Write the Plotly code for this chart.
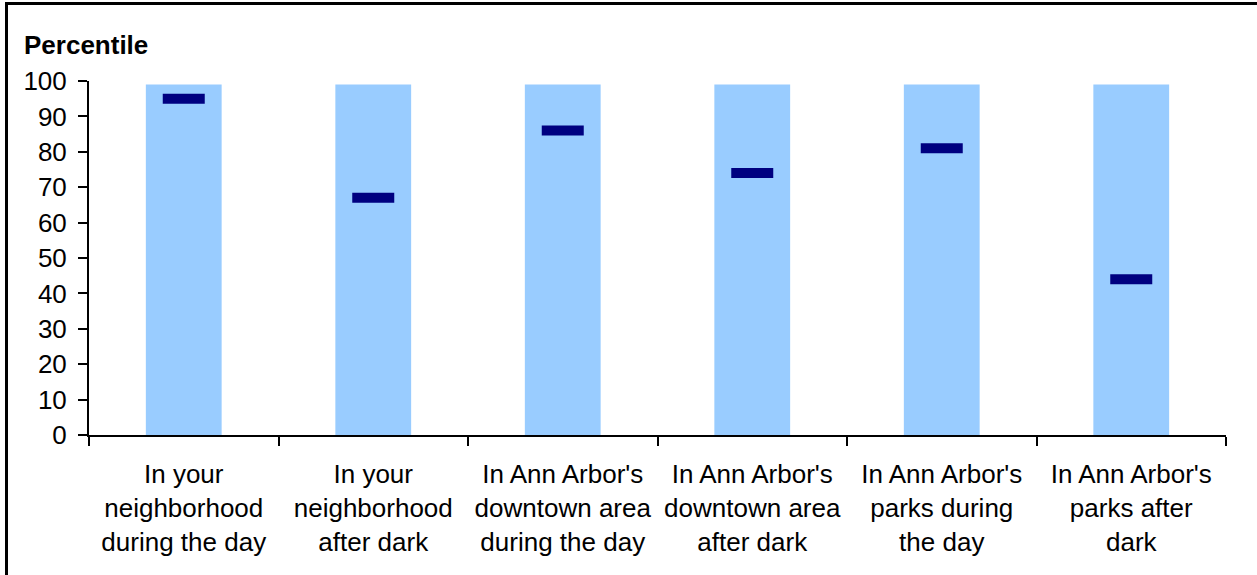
import plotly.graph_objects as go

categories = [
    "In your<br>neighborhood<br>during the day",
    "In your<br>neighborhood<br>after dark",
    "In Ann Arbor's<br>downtown area<br>during the day",
    "In Ann Arbor's<br>downtown area<br>after dark",
    "In Ann Arbor's<br>parks during<br>the day",
    "In Ann Arbor's<br>parks after<br>dark",
]
bar_values = [99, 99, 99, 99, 99, 99]
percentiles = [95, 67, 86, 74, 81, 44]
y_ticks = [0, 10, 20, 30, 40, 50, 60, 70, 80, 90, 100]

W, H = 1257, 575
L, R, T, B = 89, 31, 81, 140
pw, ph = W - L - R, H - T - B

def px_x(x):
    return (x - L) / pw

def px_y(y):
    return (H - B - y) / ph

fig = go.Figure()
fig.add_trace(go.Bar(x=categories, y=bar_values, marker_color="#99CCFF",
                     marker_line_width=0, width=0.4, hoverinfo="skip"))
fig.add_trace(go.Scatter(x=categories, y=percentiles, mode="markers",
                         marker=dict(symbol="line-ew", size=30,
                                     line=dict(color="#000080", width=10))))

font = dict(family="Liberation Sans, Arial, sans-serif", size=26, color="black")
fig.update_layout(
    width=W, height=H,
    margin=dict(l=L, r=R, t=T, b=B, pad=0),
    paper_bgcolor="white", plot_bgcolor="white",
    showlegend=False,
    font=font,
    xaxis=dict(type="category", range=[-0.5, 5.5], showline=True, linecolor="black",
               linewidth=2, ticks="outside", tickson="boundaries", ticklen=9,
               tickwidth=2, tickcolor="black", showgrid=False, zeroline=False,
               tickfont=font, ticklabelstandoff=15),
    yaxis=dict(range=[0, 100], tickvals=y_ticks, showline=True, linecolor="black",
               linewidth=2, ticks="outside", ticklen=9, tickwidth=2, tickcolor="black",
               showgrid=False, zeroline=False, tickfont=font, ticklabelstandoff=6),
    shapes=[dict(type="rect", xref="paper", yref="paper",
                 x0=px_x(6.5), x1=px_x(1290), y0=px_y(620), y1=px_y(3.5),
                 line=dict(color="black", width=3), fillcolor="rgba(0,0,0,0)")],
    annotations=[dict(text="<b>Percentile</b>", xref="paper", yref="paper",
                      x=px_x(22), y=px_y(45), xanchor="left", yanchor="middle",
                      showarrow=False, font=dict(family="Liberation Sans, Arial, sans-serif",
                                                 size=26, color="black"))],
)

fig.write_html("out.html", config={"displayModeBar": False},
               post_script="document.body.style.margin='0';document.body.style.overflow='hidden';")
